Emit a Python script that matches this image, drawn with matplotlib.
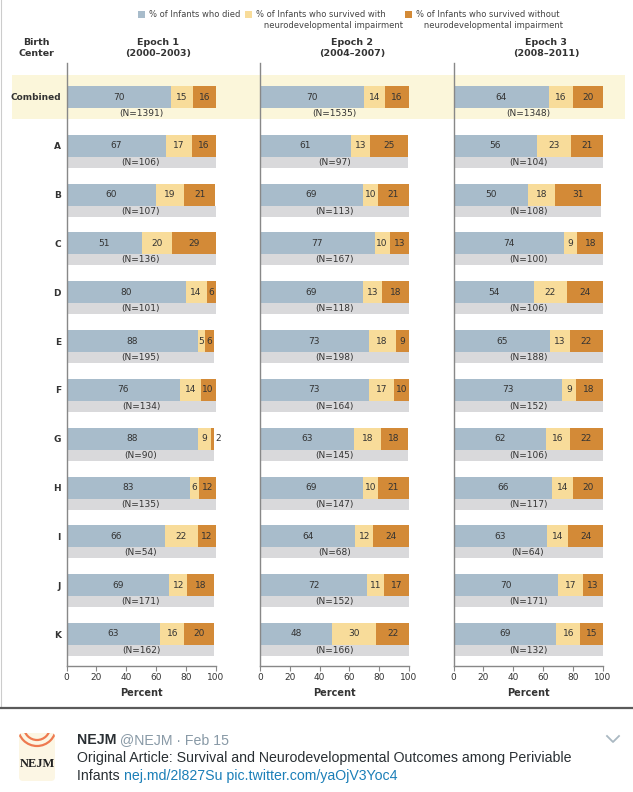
import matplotlib
matplotlib.use('Agg')
import matplotlib.pyplot as plt
from matplotlib.patches import FancyBboxPatch, Circle, Rectangle

plt.rcParams['font.family'] = ['Liberation Sans Narrow', 'DejaVu Sans']

centers = ['Combined', 'A', 'B', 'C', 'D', 'E', 'F', 'G', 'H', 'I', 'J', 'K']
epochs = ['Epoch 1\n(2000\u20132003)', 'Epoch 2\n(2004\u20132007)', 'Epoch 3\n(2008\u20132011)']

# % died, % survived with NDI, % survived without NDI, N
died_1 = [70, 67, 60, 51, 80, 88, 76, 88, 83, 66, 69, 63]
with_1 = [15, 17, 19, 20, 14, 5, 14, 9, 6, 22, 12, 16]
without_1 = [16, 16, 21, 29, 6, 6, 10, 2, 12, 12, 18, 20]
n_1 = [1391, 106, 107, 136, 101, 195, 134, 90, 135, 54, 171, 162]

died_2 = [70, 61, 69, 77, 69, 73, 73, 63, 69, 64, 72, 48]
with_2 = [14, 13, 10, 10, 13, 18, 17, 18, 10, 12, 11, 30]
without_2 = [16, 25, 21, 13, 18, 9, 10, 18, 21, 24, 17, 22]
n_2 = [1535, 97, 113, 167, 118, 198, 164, 145, 147, 68, 152, 166]

died_3 = [64, 56, 50, 74, 54, 65, 73, 62, 66, 63, 70, 69]
with_3 = [16, 23, 18, 9, 22, 13, 9, 16, 14, 14, 17, 16]
without_3 = [20, 21, 31, 18, 24, 22, 18, 22, 20, 24, 13, 15]
n_3 = [1348, 104, 108, 100, 106, 188, 152, 106, 117, 64, 171, 132]

legend_labels = ['% of Infants who died',
                 '% of Infants who survived with\n   neurodevelopmental impairment',
                 '% of Infants who survived without\n   neurodevelopmental impairment']

c_died = '#a8bccb'
c_with = '#f8dc9a'
c_without = '#d38a37'
c_gray = '#d9d9db'
c_band = '#fbf6da'
c_text = '#333333'

W, H = 633, 792
fig = plt.figure(figsize=(W / 100, H / 100), dpi=100)
bg = fig.add_axes([0, 0, 1, 1], zorder=0)
bg.set_xlim(0, W)
bg.set_ylim(H, 0)
bg.axis('off')

# highlight band for combined row
bg.add_patch(Rectangle((12, 75), 613, 44, facecolor=c_band, edgecolor='none'))
bg.plot([0.5, 0.5], [0, 708], color='#cccccc', lw=0.8)

# legend
leg_x = [138, 245, 405]
for x, col, lab in zip(leg_x, [c_died, c_with, c_without], legend_labels):
    bg.add_patch(Rectangle((x, 11), 7, 7, facecolor=col, edgecolor='none'))
    bg.text(x + 11, 10, lab, fontsize=6.0, color='#444444', va='top', ha='left',
            linespacing=1.3)

# header
bg.text(36, 48, 'Birth\nCenter', fontsize=6.8, color=c_text, ha='center', va='center',
        weight='bold', linespacing=1.3)
for cx, ep in zip([158, 352, 546], epochs):
    bg.text(cx, 48, ep, fontsize=6.8, color=c_text, ha='center', va='center',
            weight='bold', linespacing=1.3)

# panels
rows = list(range(len(centers)))
s = (634 - 97) / 11.0
top_px, bot_px = 63, 666
panel_left = [66.5, 260, 453.5]
panel_w = 149
data = [(died_1, with_1, without_1, n_1),
        (died_2, with_2, without_2, n_2),
        (died_3, with_3, without_3, n_3)]

for k, (died, wi, wo, n) in enumerate(data):
    ax = fig.add_axes([panel_left[k] / W, 1 - bot_px / H, panel_w / W,
                       (bot_px - top_px) / H], zorder=2)
    ax.set_facecolor('none')
    ax.set_xlim(0, 100)
    ax.set_ylim((bot_px - 97) / s, (top_px - 97) / s)
    totals = [a + b + c for a, b, c in zip(died, wi, wo)]
    gy = [r + 16.5 / s for r in rows]
    ax.barh(gy[1:], totals[1:], height=11 / s, color=c_gray, linewidth=0)
    left2 = died
    left3 = [a + b for a, b in zip(died, wi)]
    ax.barh(rows, died, height=22 / s, color=c_died, linewidth=0)
    ax.barh(rows, wi, left=left2, height=22 / s, color=c_with, linewidth=0)
    ax.barh(rows, wo, left=left3, height=22 / s, color=c_without, linewidth=0)
    for r in rows:
        for val, lft in [(died[r], 0), (wi[r], left2[r]), (wo[r], left3[r])]:
            if val <= 2:
                ax.text(lft + val + 0.8, r, str(val), fontsize=6.5, color=c_text,
                        ha='left', va='center', clip_on=False)
            else:
                ax.text(lft + val / 2, r, str(val), fontsize=6.5, color=c_text,
                        ha='center', va='center')
        ax.text(50, gy[r], '(N=%d)' % n[r], fontsize=6.5, color=c_text,
                ha='center', va='center')
    ax.set_xticks(range(0, 101, 20))
    ax.tick_params(axis='x', labelsize=6.5, colors='#888888', labelcolor=c_text,
                   length=3.5, width=0.8, pad=1.5)
    ax.set_yticks(rows)
    if k == 0:
        ax.set_yticklabels(centers, fontsize=6.5, weight='bold', color=c_text)
        ax.tick_params(axis='y', length=0, pad=4)
    else:
        ax.tick_params(axis='y', length=0, labelleft=False)
    for sp in ['top', 'right']:
        ax.spines[sp].set_visible(False)
    for sp in ['left', 'bottom']:
        ax.spines[sp].set_color('#888888')
        ax.spines[sp].set_linewidth(1.0)
    ax.set_xlabel('Percent', fontsize=7, weight='bold', color=c_text, labelpad=4)

# tweet footer
bg.plot([0, W], [708, 708], color='#5a5a5a', lw=1.6)
box = FancyBboxPatch((19, 733), 36, 48, boxstyle='round,pad=0,rounding_size=4',
                     facecolor='#fcf6e4', edgecolor='none')
bg.add_patch(box)
for rad in [19, 13]:
    c = Circle((37, 727), rad, facecolor='none', edgecolor='#ee7a50', lw=1.6)
    bg.add_patch(c)
    c.set_clip_path(box)
bg.text(37, 764, 'NEJM', family='Liberation Serif', fontsize=9, weight='bold',
        color='#222222', ha='center', va='center')

t1 = bg.text(77, 740, 'NEJM', family='Liberation Sans', fontsize=10.2, weight='bold',
             color='#292f33', ha='left', va='center')
bg.annotate(' @NEJM \u00b7 Feb 15', xy=(1, 0.5), xycoords=t1, family='Liberation Sans',
            fontsize=10.2, color='#8899a6', ha='left', va='center')
bg.text(77, 758, 'Original Article: Survival and Neurodevelopmental Outcomes among Periviable',
        family='Liberation Sans', fontsize=10.2, color='#292f33', ha='left', va='center')
t3 = bg.text(77, 776, 'Infants ', family='Liberation Sans', fontsize=10.2,
             color='#292f33', ha='left', va='center')
bg.annotate('nej.md/2l827Su pic.twitter.com/yaOjV3Yoc4', xy=(1, 0.5), xycoords=t3,
            family='Liberation Sans', fontsize=10.2, color='#1b7fb8', ha='left', va='center')
bg.plot([607, 613, 619], [736, 742, 736], color='#aab8c2', lw=1.3)

fig.savefig('out.png', dpi=100)
